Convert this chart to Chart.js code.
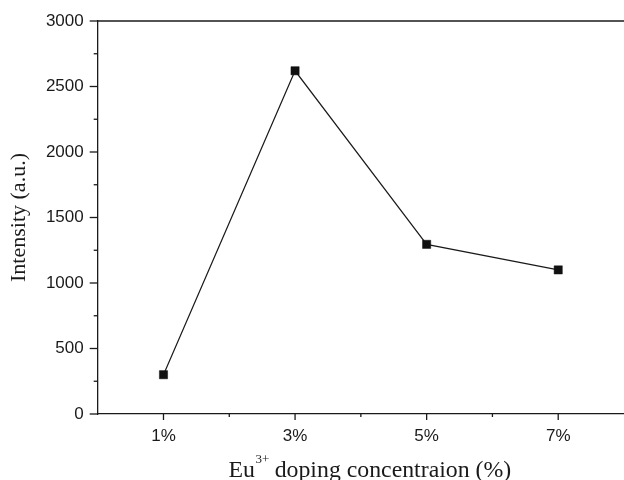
<!DOCTYPE html>
<html><head><meta charset="utf-8">
<script src="https://cdn.jsdelivr.net/npm/chart.js@4"></script>
<style>html,body{margin:0;padding:0;background:#fff;overflow:hidden}</style>
</head><body>
<canvas id="c" width="624" height="480"></canvas>
<script>
// ---- data ----
const categories = ['1%', '3%', '5%', '7%'];
const intensity = [300, 2620, 1295, 1100];
const yTickStep = 500;
const yRange = [0, 3000];
const xRange = [0, 8];
const xTitleMain = 'Eu';
const xTitleSup = '3+';
const xTitleRest = ' doping concentraion (%)';
const yTitle = 'Intensity (a.u.)';

const points = categories.map((c, i) => ({ x: parseFloat(c), y: intensity[i] }));
const ink = '#1a1a1a';
const sans = '"Liberation Sans", Arial, Helvetica, sans-serif';
const serif = '"Liberation Serif", "Times New Roman", serif';

const decor = {
  id: 'decor',
  afterDraw(chart) {
    const { ctx, chartArea: a, scales: { x, y } } = chart;
    ctx.save();
    ctx.strokeStyle = ink;
    ctx.lineWidth = 1.3;
    const seg = (x1, y1, x2, y2) => { ctx.beginPath(); ctx.moveTo(x1, y1); ctx.lineTo(x2, y2); ctx.stroke(); };
    // top frame line
    seg(a.left, a.top, a.right, a.top);
    // y ticks: major at labelled ticks, minor halfway
    const yt = y.ticks.map(t => t.value);
    yt.forEach((v, i) => {
      const py = y.getPixelForValue(v);
      seg(a.left - 8, py, a.left, py);
      if (i < yt.length - 1) {
        const pm = y.getPixelForValue((v + yt[i + 1]) / 2);
        seg(a.left - 4, pm, a.left, pm);
      }
    });
    // x ticks: major at categories, minor between
    const catVals = categories.map(c => parseFloat(c));
    x.ticks.forEach(t => {
      if (t.value <= xRange[0] || t.value >= xRange[1]) return;
      const px = x.getPixelForValue(t.value);
      const len = catVals.includes(t.value) ? 6 : 3;
      seg(px, a.bottom, px, a.bottom + len);
    });
    // y title
    ctx.fillStyle = ink;
    ctx.save();
    ctx.translate(19.5, (a.top + a.bottom) / 2);
    ctx.rotate(-Math.PI / 2);
    ctx.font = '22px ' + serif;
    ctx.textAlign = 'center';
    ctx.textBaseline = 'middle';
    ctx.fillText(yTitle, 0, 0);
    ctx.restore();
    // x title with superscript
    const mainFont = '23.8px ' + serif, supFont = '13px ' + serif;
    ctx.font = mainFont; const w1 = ctx.measureText(xTitleMain).width; const w3 = ctx.measureText(xTitleRest).width;
    ctx.font = supFont; const w2 = ctx.measureText(xTitleSup).width;
    const total = w1 + w2 + w3;
    const cx = (a.left + a.right) / 2 + 9;
    let sx = cx - total / 2;
    const base = 476.5;
    ctx.textAlign = 'left';
    ctx.textBaseline = 'alphabetic';
    ctx.font = mainFont; ctx.fillText(xTitleMain, sx, base);
    ctx.font = supFont; ctx.fillText(xTitleSup, sx + w1 + 0.5, base - 13.5);
    ctx.font = mainFont; ctx.fillText(xTitleRest, sx + w1 + w2, base);
    ctx.restore();
  }
};

new Chart(document.getElementById('c'), {
  type: 'line',
  data: {
    datasets: [{
      data: points,
      borderColor: ink,
      borderWidth: 1.2,
      pointStyle: 'rect',
      pointRadius: 5.8,
      pointBackgroundColor: '#111',
      pointBorderColor: '#111',
      pointBorderWidth: 0.5,
      tension: 0,
      clip: false
    }]
  },
  options: {
    responsive: false,
    animation: false,
    layout: { autoPadding: false, padding: { top: 21, right: 0, left: 0, bottom: 0 } },
    plugins: { legend: { display: false }, tooltip: { enabled: false } },
    scales: {
      x: {
        type: 'linear',
        min: xRange[0], max: xRange[1],
        afterFit: s => { s.height = 66; s.paddingLeft = 0; s.paddingRight = 0; },
        grid: { display: false, drawTicks: false },
        border: { display: true, color: ink, width: 1.3 },
        ticks: {
          stepSize: 1,
          padding: 12,
          color: ink,
          font: { family: sans, size: 17 },
          maxRotation: 0,
          autoSkip: false,
          callback: v => { const i = categories.findIndex(c => parseFloat(c) === v); return i >= 0 ? categories[i] : ''; }
        }
      },
      y: {
        min: yRange[0], max: yRange[1],
        afterFit: s => { s.width = 97.7; s.paddingTop = 0; s.paddingBottom = 0; },
        grid: { display: false, drawTicks: false },
        border: { display: true, color: ink, width: 1.3 },
        ticks: {
          stepSize: yTickStep,
          padding: 14,
          color: ink,
          font: { family: sans, size: 17 },
          callback: v => String(v)
        }
      }
    }
  },
  plugins: [decor]
});
</script>
</body></html>
